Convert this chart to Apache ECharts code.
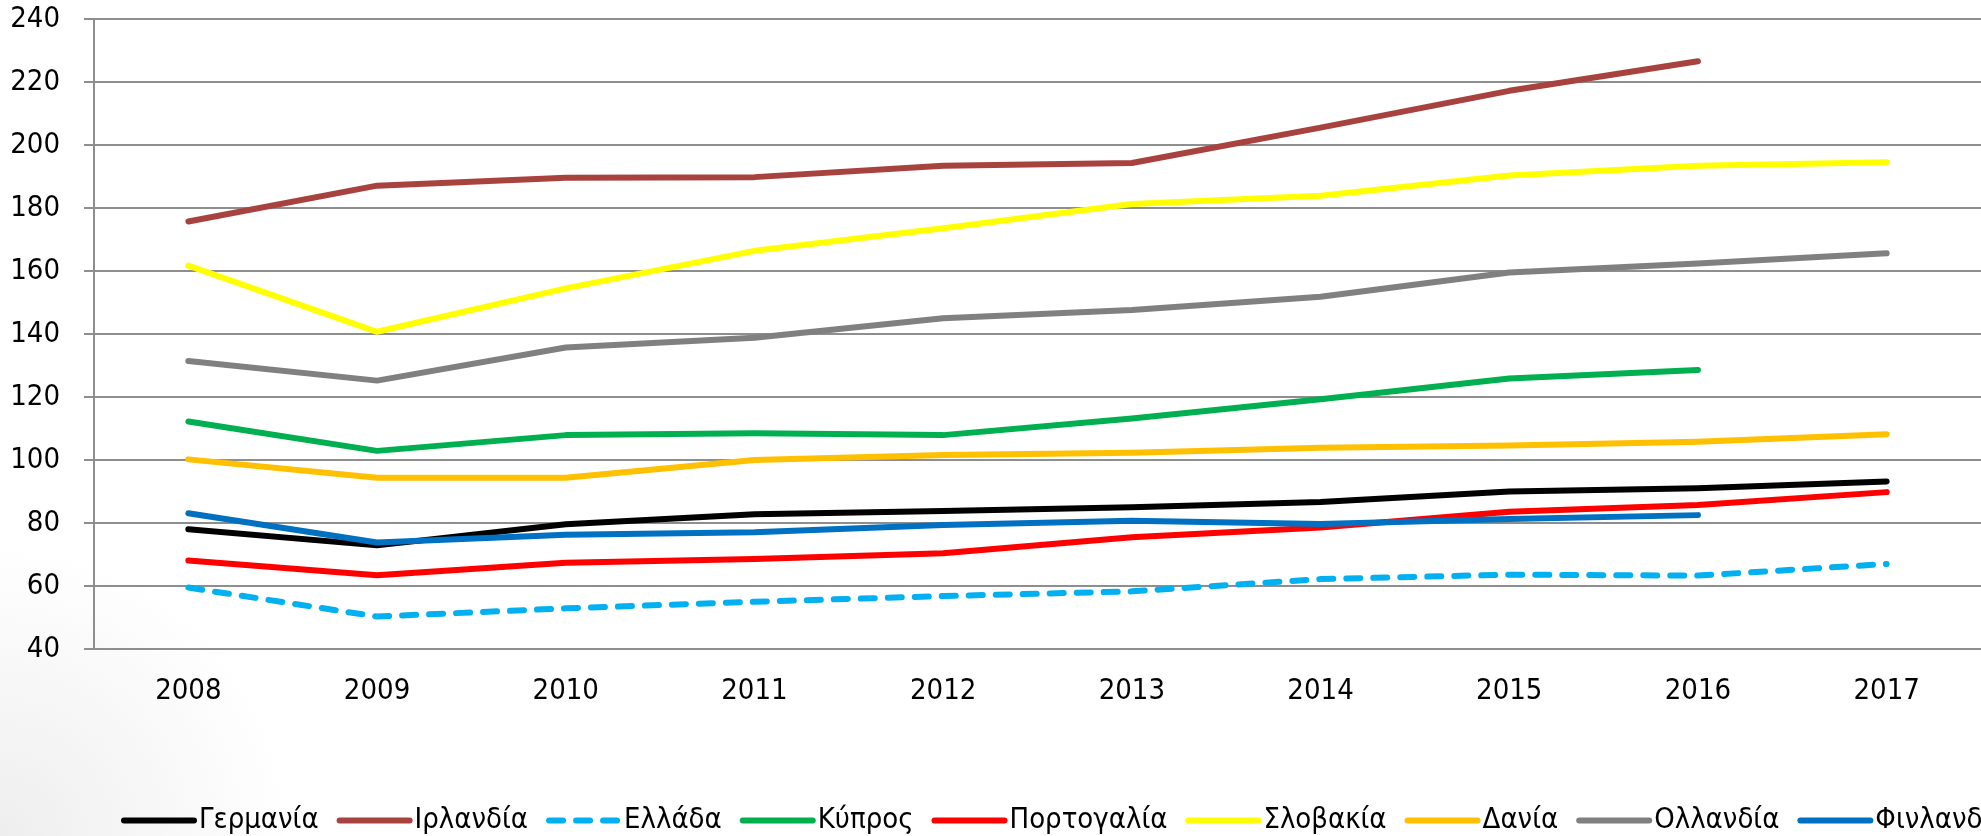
<!DOCTYPE html>
<html>
<head>
<meta charset="utf-8">
<title>chart</title>
<script src="https://cdn.jsdelivr.net/npm/echarts@6/dist/echarts.min.js"></script>
<style>
  html, body { margin: 0; padding: 0; background: #fff; }
  #chart { width: 1981px; height: 836px; }
</style>
</head>
<body>
<div id="chart"></div>
<script>
const years = ['2008', '2009', '2010', '2011', '2012', '2013', '2014', '2015', '2016', '2017']

const germany = [78.0, 72.9, 79.6, 82.8, 83.8, 85.0, 86.7, 90.0, 91.0, 93.2]
const ireland = [175.7, 187.1, 189.6, 189.8, 193.4, 194.3, 205.5, 217.2, 226.6, null]
const greece = [59.5, 50.3, 52.9, 55.0, 56.8, 58.3, 62.2, 63.6, 63.3, 67.0]
const cyprus = [112.2, 102.9, 107.9, 108.5, 107.9, 113.2, 119.3, 125.9, 128.6, null]
const portugal = [68.1, 63.4, 67.4, 68.6, 70.4, 75.5, 78.6, 83.6, 85.7, 89.8]
const slovakia = [161.7, 140.7, 154.5, 166.4, 173.6, 181.3, 183.9, 190.3, 193.4, 194.5]
const denmark = [100.2, 94.4, 94.4, 100.0, 101.6, 102.3, 103.9, 104.6, 105.8, 108.2]
const netherlands = [131.4, 125.2, 135.7, 138.8, 145.0, 147.6, 151.8, 159.5, 162.4, 165.6]
const finland = [83.1, 73.8, 76.3, 77.1, 79.4, 80.7, 79.7, 81.3, 82.5, null]

const names = ['Γερμανία', 'Ιρλανδία', 'Ελλάδα', 'Κύπρος', 'Πορτογαλία', 'Σλοβακία', 'Δανία', 'Ολλανδία', 'Φινλανδία']
const colors = ['#000000', '#A8423F', '#00B0F0', '#00B050', '#FF0000', '#FFFF00', '#FFC000', '#808080', '#0070C0']
const values = [germany, ireland, greece, cyprus, portugal, slovakia, denmark, netherlands, finland]

const font = "'DejaVu Sans Condensed', 'Noto Sans', sans-serif"
const axisGray = '#8E8E8E'

const chart = echarts.init(document.getElementById('chart'))

const series = names.map((name, i) => {
  return {
    name: name,
    type: 'line',
    data: values[i],
    symbol: 'none',
    lineStyle: {
      color: colors[i],
      width: 6,
      cap: 'round',
      join: 'round',
      // Ελλάδα is the dashed one
      type: name === 'Ελλάδα' ? [14, 13] : 'solid'
    },
    itemStyle: { color: colors[i] },
    animation: false
  }
})

chart.setOption({
  // faint grey shading in the lower left corner, like the slide behind the chart
  backgroundColor: new echarts.graphic.RadialGradient(0, 1, 0.35, [
    { offset: 0, color: '#eeeeee' },
    { offset: 1, color: '#ffffff' }
  ]),
  color: colors,
  textStyle: { fontFamily: font },
  grid: {
    left: 94,
    top: 19,
    width: 1900,
    height: 630
  },
  legend: {
    data: names,
    left: 116,
    top: 801,
    width: 2400,
    itemWidth: 70,
    itemHeight: 14,
    itemGap: 18,
    itemStyle: { opacity: 0 },
    lineStyle: { width: 6 },
    textStyle: {
      fontFamily: font,
      fontSize: 29,
      color: '#000'
    }
  },
  xAxis: {
    type: 'category',
    data: years,
    boundaryGap: true,
    axisLine: { lineStyle: { color: axisGray, width: 2 } },
    axisTick: { length: 9, lineStyle: { color: axisGray, width: 2 } },
    axisLabel: {
      margin: 28,
      fontSize: 29,
      fontFamily: font,
      color: '#000'
    }
  },
  yAxis: {
    type: 'value',
    min: 40,
    max: 240,
    interval: 20,
    axisLine: { show: true, lineStyle: { color: axisGray, width: 2 } },
    axisTick: { show: true, length: 10, lineStyle: { color: axisGray, width: 2 } },
    splitLine: { lineStyle: { color: axisGray, width: 2 } },
    axisLabel: {
      margin: 34,
      fontSize: 29,
      fontFamily: font,
      color: '#000'
    }
  },
  series: series
})
</script>
</body>
</html>
